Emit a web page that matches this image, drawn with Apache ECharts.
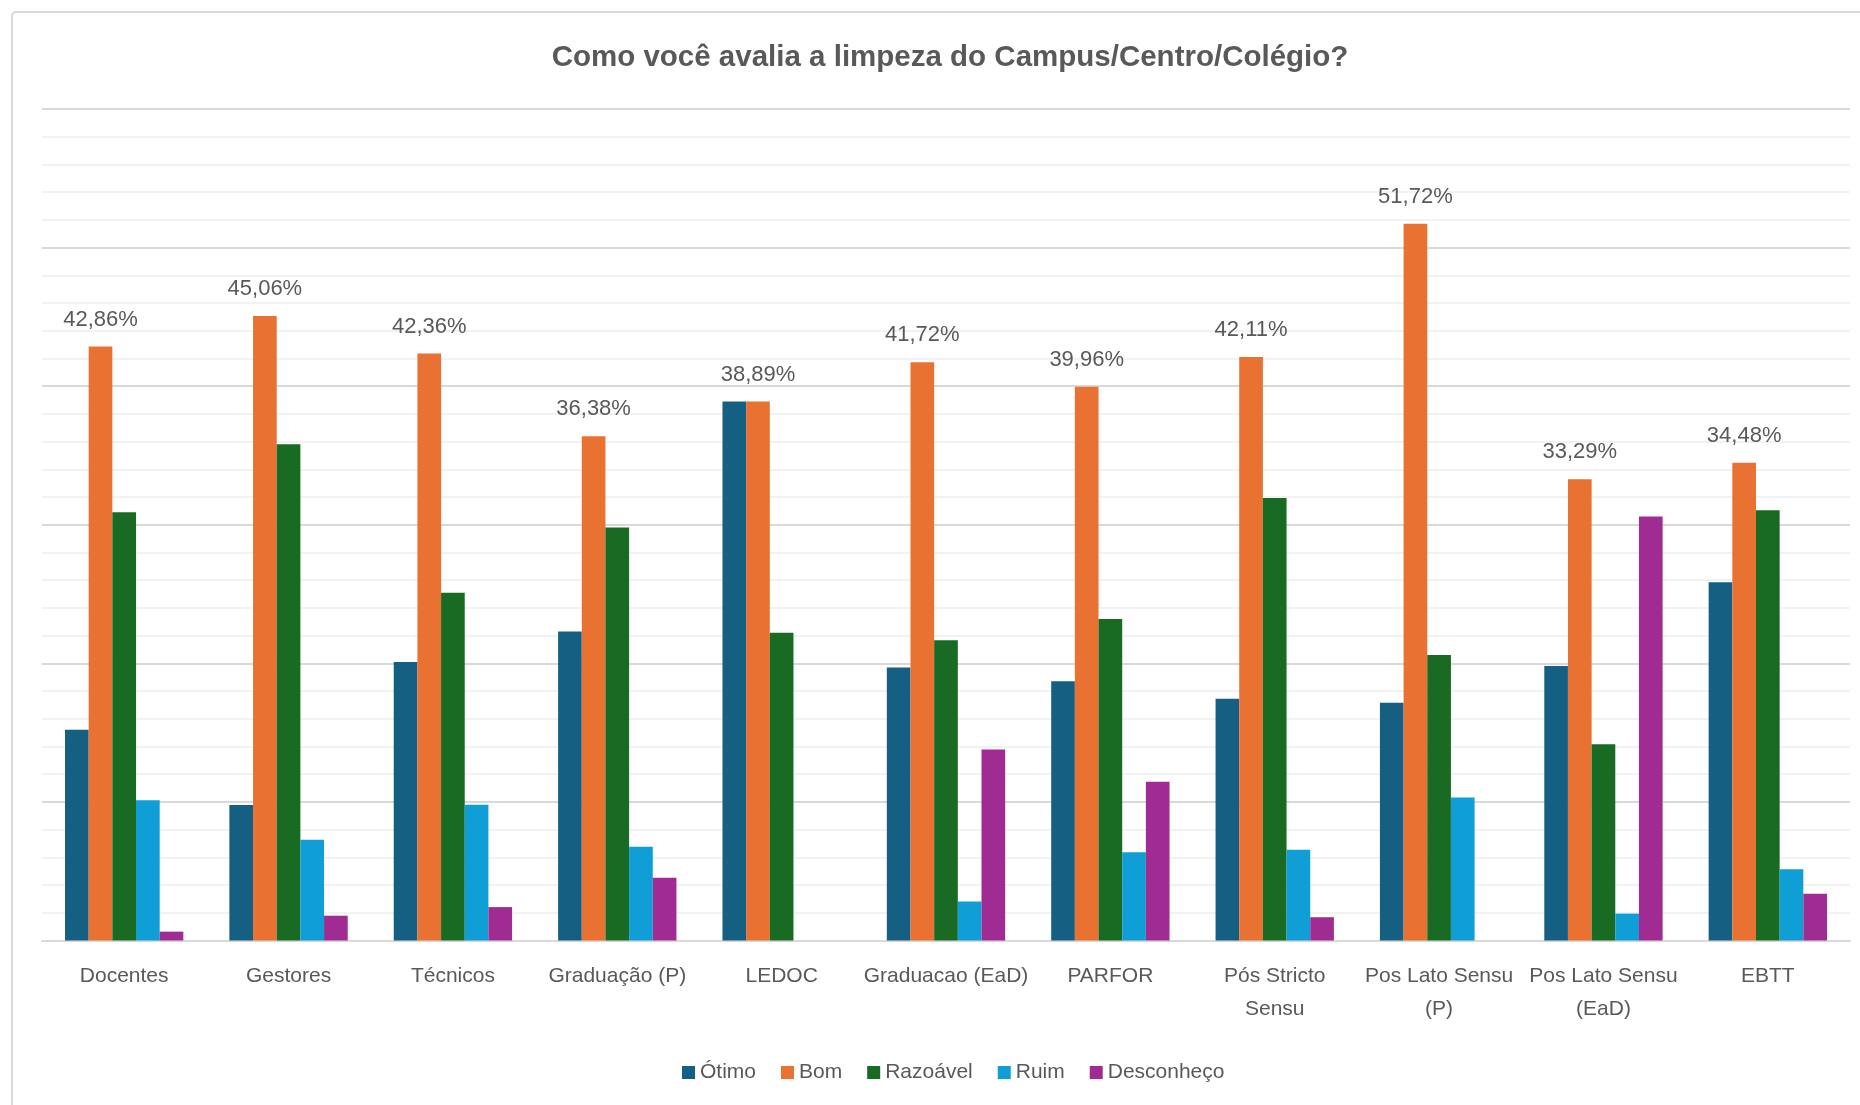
<!DOCTYPE html>
<html>
<head>
<meta charset="utf-8">
<title>Como você avalia a limpeza do Campus/Centro/Colégio?</title>
<script src="https://cdn.jsdelivr.net/npm/echarts@6/dist/echarts.min.js"></script>
<style>
    html, body { margin: 0; padding: 0; background: #fff; }
    #echart1 { width: 1860px; height: 1105px; }
</style>
</head>
<body>
<div id="echart1"></div>
<script>
var categories = ['Docentes', 'Gestores', 'Técnicos', 'Graduação (P)', 'LEDOC', 'Graduacao (EaD)', 'PARFOR',
    'Pós Stricto\nSensu', 'Pos Lato Sensu\n(P)', 'Pos Lato Sensu\n(EaD)', 'EBTT'];
var otimo = [15.2, 9.78, 20.1, 22.3, 38.89, 19.7, 18.7, 17.45, 17.15, 19.8, 25.85];
var bom = [42.86, 45.06, 42.36, 36.38, 38.89, 41.72, 39.96, 42.11, 51.72, 33.29, 34.48];
var razoavel = [30.9, 35.8, 25.1, 29.8, 22.2, 21.67, 23.2, 31.93, 20.6, 14.17, 31.05];
var ruim = [10.12, 7.27, 9.8, 6.77, 0, 2.82, 6.36, 6.55, 10.32, 1.94, 5.14];
var desconheco = [0.64, 1.79, 2.41, 4.52, 0, 13.78, 11.45, 1.68, 0, 30.6, 3.38];

var seriesNames = ['Ótimo', 'Bom', 'Razoável', 'Ruim', 'Desconheço'];
var seriesData = [otimo, bom, razoavel, ruim, desconheco];
var colors = ['#156082', '#E97132', '#196B24', '#0F9ED5', '#A02B93'];

var myChart = echarts.init(document.getElementById('echart1'));

var series = [];
for (var i = 0; i < seriesNames.length; i++) {
    var s = {
        name: seriesNames[i],
        type: 'bar',
        data: seriesData[i],
        barGap: '0%',
        barCategoryGap: '28%',
        itemStyle: { color: colors[i] }
    };
    // só a série "Bom" tem rótulo
    if (seriesNames[i] === 'Bom') {
        s.label = {
            show: true,
            position: 'top',
            distance: 16,
            color: '#595959',
            fontFamily: 'Liberation Sans',
            fontSize: 22,
            formatter: function (p) {
                return p.value.toFixed(2).replace('.', ',') + '%';
            }
        };
    }
    series.push(s);
}

var option = {
    backgroundColor: '#fff',
    color: colors,
    animation: false,
    title: {
        text: 'Como você avalia a limpeza do Campus/Centro/Colégio?',
        left: 945,
        textAlign: 'center',
        top: 38,
        textStyle: {
            color: '#595959',
            fontFamily: 'Liberation Sans',
            fontWeight: 'bold',
            fontSize: 29.5
        }
    },
    legend: {
        left: 677,
        top: 1057,
        itemWidth: 13,
        itemHeight: 13,
        itemGap: 25,
        icon: 'rect',
        textStyle: {
            color: '#595959',
            fontFamily: 'Liberation Sans',
            fontSize: 21
        },
        data: seriesNames
    },
    grid: {
        left: 42,
        right: 10,
        top: 109,
        bottom: 164.5
    },
    xAxis: {
        type: 'category',
        data: categories,
        axisLine: { show: true, lineStyle: { color: '#d9d9d9', width: 2 } },
        axisTick: { show: false },
        axisLabel: {
            interval: 0,
            margin: 19,
            color: '#595959',
            fontFamily: 'Liberation Sans',
            fontSize: 21,
            lineHeight: 33
        }
    },
    yAxis: {
        type: 'value',
        min: 0,
        max: 60,
        interval: 10,
        axisLabel: { show: false },
        axisLine: { show: false },
        axisTick: { show: false },
        splitLine: { lineStyle: { color: '#d9d9d9', width: 2 } },
        minorTick: { show: false, splitNumber: 5 },
        minorSplitLine: { show: true, lineStyle: { color: '#f2f2f2', width: 2 } }
    },
    graphic: [{
        type: 'rect',
        silent: true,
        shape: { x: 12, y: 12, width: 1900, height: 1200, r: 4 },
        style: { fill: 'none', stroke: '#d9d9d9', lineWidth: 2 }
    }],
    series: series
};

myChart.setOption(option);
window.addEventListener("resize", function () {
    myChart.resize();
});
</script>
</body>
</html>
